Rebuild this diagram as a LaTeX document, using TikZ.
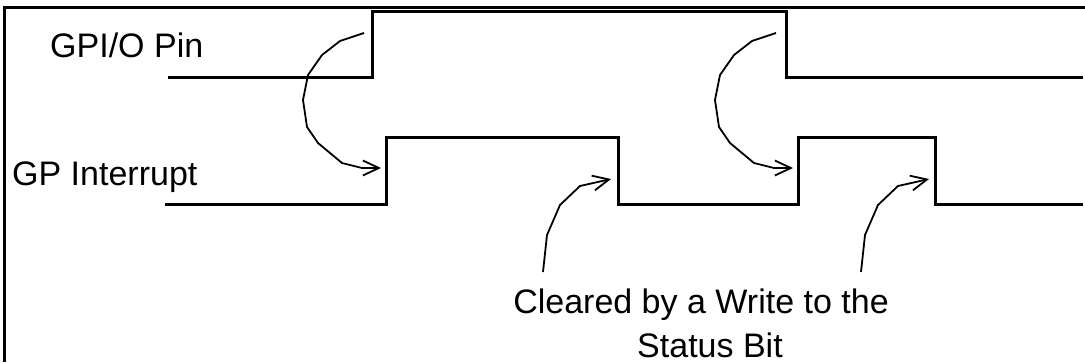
\documentclass[tikz,border=0pt]{standalone}
\usepackage{fontspec}
\setmainfont{Liberation Sans}
\usetikzlibrary{arrows.meta}
\begin{document}
\begin{tikzpicture}[x=1pt,y=-1pt,
  frame/.style={line width=3pt},
  sig/.style={line width=3pt},
  arr/.style={line width=1.8pt,-{Straight Barb[length=16pt,width=15pt,line width=1.8pt]}},
  lbl/.style={inner sep=0pt,font=\fontsize{34}{46}\selectfont}]
\useasboundingbox (0,0) rectangle (1085,362);
% frame
\draw[frame] (4,362) -- (4,7) -- (1085,7);
% labels
\node[lbl,anchor=base west] (gpio) at (50,57) {GPI/O Pin};
\node[lbl,anchor=base west] (gpint) at (12,185) {GP Interrupt};
\node[lbl,anchor=base] (clr1) at (701,313) {Cleared by a Write to the};
\node[lbl,anchor=base] (clr2) at (710,357) {Status Bit};
% signals
\draw[sig] (168,77) -- (372,77) -- (372,11) -- (786,11) -- (786,77) -- (1083,77);
\draw[sig] (165,204) -- (386,204) -- (386,137) -- (618,137) -- (618,204)
  -- (798,204) -- (798,137) -- (935,137) -- (935,204) -- (1083,204);
% arrow coordinates
\coordinate (a1s) at (364,33);  \coordinate (a1e) at (381,168);
\coordinate (a2s) at (776,33);  \coordinate (a2e) at (793,168);
\coordinate (a3s) at (543,272); \coordinate (a3e) at (611,179);
\coordinate (a4s) at (861,272); \coordinate (a4e) at (929,179);
% curved arrows
\draw[arr] (a1s) -- (340,41) -- (322,55) -- (308,75) -- (303,100) -- (307,127)
  -- (318,143) -- (342,163) -- (362,168) -- (a1e);
\draw[arr] (a2s) -- (752,41) -- (734,55) -- (720,75) -- (715,100) -- (719,127)
  -- (730,143) -- (754,163) -- (774,168) -- (a2e);
\draw[arr] (a3s) -- (547,235) -- (560,205) -- (580,186) -- (a3e);
\draw[arr] (a4s) -- (865,235) -- (878,205) -- (898,186) -- (a4e);
\end{tikzpicture}
\end{document}
